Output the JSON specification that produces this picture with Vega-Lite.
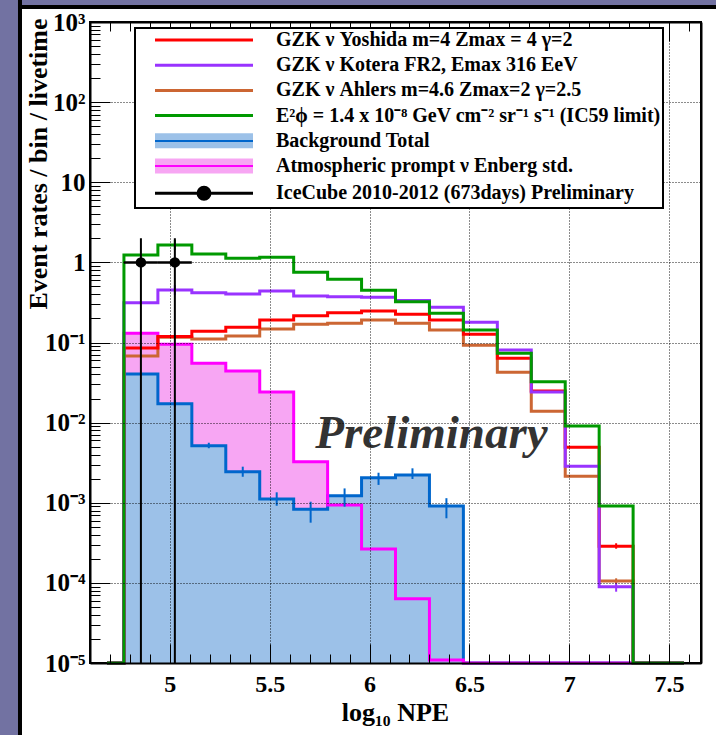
{
  "$schema": "https://vega.github.io/schema/vega-lite/v6.json",
  "width": 611,
  "height": 641,
  "autosize": {"type": "none"},
  "padding": {"left": 90, "top": 22, "right": 15, "bottom": 72},
  "background": "#ffffff",
  "config": {
    "view": {"stroke": "#000000", "strokeWidth": 2, "fill": null},
    "font": "Liberation Serif"
  },
  "datasets": {
    "hist": [
      {"series": "Background Total", "c": 4.685, "v": 0.00001},
      {"series": "Background Total", "c": 4.855, "v": 0.0404},
      {"series": "Background Total", "c": 5.025, "v": 0.0172},
      {"series": "Background Total", "c": 5.195, "v": 0.00515},
      {"series": "Background Total", "c": 5.365, "v": 0.00244},
      {"series": "Background Total", "c": 5.535, "v": 0.001114},
      {"series": "Background Total", "c": 5.705, "v": 0.000828},
      {"series": "Background Total", "c": 5.875, "v": 0.001225},
      {"series": "Background Total", "c": 6.045, "v": 0.002056},
      {"series": "Background Total", "c": 6.215, "v": 0.00222},
      {"series": "Background Total", "c": 6.385, "v": 0.00091},
      {"series": "Background Total", "c": 6.555, "v": 0.00001},
      {"series": "Background Total", "c": 6.725, "v": 0.00001},
      {"series": "Background Total", "c": 6.895, "v": 0.00001},
      {"series": "Background Total", "c": 7.065, "v": 0.00001},
      {"series": "Background Total", "c": 7.235, "v": 0.00001},
      {"series": "Background Total", "c": 7.405, "v": 0.00001},
      {"series": "Background Total", "c": 7.575, "v": 0.00001},
      {"series": "Atmospheric prompt ν Enberg std.", "c": 4.685, "v": 0.00001},
      {"series": "Atmospheric prompt ν Enberg std.", "c": 4.855, "v": 0.130},
      {"series": "Atmospheric prompt ν Enberg std.", "c": 5.025, "v": 0.0950},
      {"series": "Atmospheric prompt ν Enberg std.", "c": 5.195, "v": 0.0550},
      {"series": "Atmospheric prompt ν Enberg std.", "c": 5.365, "v": 0.0441},
      {"series": "Atmospheric prompt ν Enberg std.", "c": 5.535, "v": 0.0241},
      {"series": "Atmospheric prompt ν Enberg std.", "c": 5.705, "v": 0.00325},
      {"series": "Atmospheric prompt ν Enberg std.", "c": 5.875, "v": 0.000938},
      {"series": "Atmospheric prompt ν Enberg std.", "c": 6.045, "v": 0.000265},
      {"series": "Atmospheric prompt ν Enberg std.", "c": 6.215, "v": 0.0000634},
      {"series": "Atmospheric prompt ν Enberg std.", "c": 6.385, "v": 0.0000109},
      {"series": "Atmospheric prompt ν Enberg std.", "c": 6.555, "v": 0.00001},
      {"series": "Atmospheric prompt ν Enberg std.", "c": 6.725, "v": 0.00001},
      {"series": "Atmospheric prompt ν Enberg std.", "c": 6.895, "v": 0.00001},
      {"series": "Atmospheric prompt ν Enberg std.", "c": 7.065, "v": 0.00001},
      {"series": "Atmospheric prompt ν Enberg std.", "c": 7.235, "v": 0.00001},
      {"series": "Atmospheric prompt ν Enberg std.", "c": 7.405, "v": 0.00001},
      {"series": "Atmospheric prompt ν Enberg std.", "c": 7.575, "v": 0.00001},
      {"series": "GZK ν Ahlers m=4.6 Zmax=2 γ=2.5", "c": 4.685, "v": 0.00001},
      {"series": "GZK ν Ahlers m=4.6 Zmax=2 γ=2.5", "c": 4.855, "v": 0.0678},
      {"series": "GZK ν Ahlers m=4.6 Zmax=2 γ=2.5", "c": 5.025, "v": 0.116},
      {"series": "GZK ν Ahlers m=4.6 Zmax=2 γ=2.5", "c": 5.195, "v": 0.1106},
      {"series": "GZK ν Ahlers m=4.6 Zmax=2 γ=2.5", "c": 5.365, "v": 0.1205},
      {"series": "GZK ν Ahlers m=4.6 Zmax=2 γ=2.5", "c": 5.535, "v": 0.147},
      {"series": "GZK ν Ahlers m=4.6 Zmax=2 γ=2.5", "c": 5.705, "v": 0.1687},
      {"series": "GZK ν Ahlers m=4.6 Zmax=2 γ=2.5", "c": 5.875, "v": 0.174},
      {"series": "GZK ν Ahlers m=4.6 Zmax=2 γ=2.5", "c": 6.045, "v": 0.191},
      {"series": "GZK ν Ahlers m=4.6 Zmax=2 γ=2.5", "c": 6.215, "v": 0.174},
      {"series": "GZK ν Ahlers m=4.6 Zmax=2 γ=2.5", "c": 6.385, "v": 0.143},
      {"series": "GZK ν Ahlers m=4.6 Zmax=2 γ=2.5", "c": 6.555, "v": 0.0923},
      {"series": "GZK ν Ahlers m=4.6 Zmax=2 γ=2.5", "c": 6.725, "v": 0.0425},
      {"series": "GZK ν Ahlers m=4.6 Zmax=2 γ=2.5", "c": 6.895, "v": 0.01384},
      {"series": "GZK ν Ahlers m=4.6 Zmax=2 γ=2.5", "c": 7.065, "v": 0.00214},
      {"series": "GZK ν Ahlers m=4.6 Zmax=2 γ=2.5", "c": 7.235, "v": 0.0001055},
      {"series": "GZK ν Ahlers m=4.6 Zmax=2 γ=2.5", "c": 7.405, "v": 0.00001},
      {"series": "GZK ν Ahlers m=4.6 Zmax=2 γ=2.5", "c": 7.575, "v": 0.00001},
      {"series": "GZK ν Yoshida m=4 Zmax = 4 γ=2", "c": 4.685, "v": 0.00001},
      {"series": "GZK ν Yoshida m=4 Zmax = 4 γ=2", "c": 4.855, "v": 0.0853},
      {"series": "GZK ν Yoshida m=4 Zmax = 4 γ=2", "c": 5.025, "v": 0.119},
      {"series": "GZK ν Yoshida m=4 Zmax = 4 γ=2", "c": 5.195, "v": 0.138},
      {"series": "GZK ν Yoshida m=4 Zmax = 4 γ=2", "c": 5.365, "v": 0.155},
      {"series": "GZK ν Yoshida m=4 Zmax = 4 γ=2", "c": 5.535, "v": 0.191},
      {"series": "GZK ν Yoshida m=4 Zmax = 4 γ=2", "c": 5.705, "v": 0.216},
      {"series": "GZK ν Yoshida m=4 Zmax = 4 γ=2", "c": 5.875, "v": 0.235},
      {"series": "GZK ν Yoshida m=4 Zmax = 4 γ=2", "c": 6.045, "v": 0.247},
      {"series": "GZK ν Yoshida m=4 Zmax = 4 γ=2", "c": 6.215, "v": 0.225},
      {"series": "GZK ν Yoshida m=4 Zmax = 4 γ=2", "c": 6.385, "v": 0.191},
      {"series": "GZK ν Yoshida m=4 Zmax = 4 γ=2", "c": 6.555, "v": 0.1265},
      {"series": "GZK ν Yoshida m=4 Zmax = 4 γ=2", "c": 6.725, "v": 0.0635},
      {"series": "GZK ν Yoshida m=4 Zmax = 4 γ=2", "c": 6.895, "v": 0.0248},
      {"series": "GZK ν Yoshida m=4 Zmax = 4 γ=2", "c": 7.065, "v": 0.00492},
      {"series": "GZK ν Yoshida m=4 Zmax = 4 γ=2", "c": 7.235, "v": 0.000286},
      {"series": "GZK ν Yoshida m=4 Zmax = 4 γ=2", "c": 7.405, "v": 0.00001},
      {"series": "GZK ν Yoshida m=4 Zmax = 4 γ=2", "c": 7.575, "v": 0.00001},
      {"series": "GZK ν Kotera FR2, Emax 316 EeV", "c": 4.685, "v": 0.00001},
      {"series": "GZK ν Kotera FR2, Emax 316 EeV", "c": 4.855, "v": 0.314},
      {"series": "GZK ν Kotera FR2, Emax 316 EeV", "c": 5.025, "v": 0.452},
      {"series": "GZK ν Kotera FR2, Emax 316 EeV", "c": 5.195, "v": 0.419},
      {"series": "GZK ν Kotera FR2, Emax 316 EeV", "c": 5.365, "v": 0.403},
      {"series": "GZK ν Kotera FR2, Emax 316 EeV", "c": 5.535, "v": 0.439},
      {"series": "GZK ν Kotera FR2, Emax 316 EeV", "c": 5.705, "v": 0.380},
      {"series": "GZK ν Kotera FR2, Emax 316 EeV", "c": 5.875, "v": 0.373},
      {"series": "GZK ν Kotera FR2, Emax 316 EeV", "c": 6.045, "v": 0.367},
      {"series": "GZK ν Kotera FR2, Emax 316 EeV", "c": 6.215, "v": 0.335},
      {"series": "GZK ν Kotera FR2, Emax 316 EeV", "c": 6.385, "v": 0.275},
      {"series": "GZK ν Kotera FR2, Emax 316 EeV", "c": 6.555, "v": 0.179},
      {"series": "GZK ν Kotera FR2, Emax 316 EeV", "c": 6.725, "v": 0.0806},
      {"series": "GZK ν Kotera FR2, Emax 316 EeV", "c": 6.895, "v": 0.0241},
      {"series": "GZK ν Kotera FR2, Emax 316 EeV", "c": 7.065, "v": 0.00285},
      {"series": "GZK ν Kotera FR2, Emax 316 EeV", "c": 7.235, "v": 0.0000895},
      {"series": "GZK ν Kotera FR2, Emax 316 EeV", "c": 7.405, "v": 0.00001},
      {"series": "GZK ν Kotera FR2, Emax 316 EeV", "c": 7.575, "v": 0.00001},
      {"series": "E²ϕ = 1.4 x 10⁻⁸ GeV cm⁻² sr⁻¹ s⁻¹ (IC59 limit)", "c": 4.685, "v": 0.00001},
      {"series": "E²ϕ = 1.4 x 10⁻⁸ GeV cm⁻² sr⁻¹ s⁻¹ (IC59 limit)", "c": 4.855, "v": 1.236},
      {"series": "E²ϕ = 1.4 x 10⁻⁸ GeV cm⁻² sr⁻¹ s⁻¹ (IC59 limit)", "c": 5.025, "v": 1.648},
      {"series": "E²ϕ = 1.4 x 10⁻⁸ GeV cm⁻² sr⁻¹ s⁻¹ (IC59 limit)", "c": 5.195, "v": 1.272},
      {"series": "E²ϕ = 1.4 x 10⁻⁸ GeV cm⁻² sr⁻¹ s⁻¹ (IC59 limit)", "c": 5.365, "v": 1.124},
      {"series": "E²ϕ = 1.4 x 10⁻⁸ GeV cm⁻² sr⁻¹ s⁻¹ (IC59 limit)", "c": 5.535, "v": 1.156},
      {"series": "E²ϕ = 1.4 x 10⁻⁸ GeV cm⁻² sr⁻¹ s⁻¹ (IC59 limit)", "c": 5.705, "v": 0.752},
      {"series": "E²ϕ = 1.4 x 10⁻⁸ GeV cm⁻² sr⁻¹ s⁻¹ (IC59 limit)", "c": 5.875, "v": 0.615},
      {"series": "E²ϕ = 1.4 x 10⁻⁸ GeV cm⁻² sr⁻¹ s⁻¹ (IC59 limit)", "c": 6.045, "v": 0.448},
      {"series": "E²ϕ = 1.4 x 10⁻⁸ GeV cm⁻² sr⁻¹ s⁻¹ (IC59 limit)", "c": 6.215, "v": 0.323},
      {"series": "E²ϕ = 1.4 x 10⁻⁸ GeV cm⁻² sr⁻¹ s⁻¹ (IC59 limit)", "c": 6.385, "v": 0.231},
      {"series": "E²ϕ = 1.4 x 10⁻⁸ GeV cm⁻² sr⁻¹ s⁻¹ (IC59 limit)", "c": 6.555, "v": 0.143},
      {"series": "E²ϕ = 1.4 x 10⁻⁸ GeV cm⁻² sr⁻¹ s⁻¹ (IC59 limit)", "c": 6.725, "v": 0.0733},
      {"series": "E²ϕ = 1.4 x 10⁻⁸ GeV cm⁻² sr⁻¹ s⁻¹ (IC59 limit)", "c": 6.895, "v": 0.0324},
      {"series": "E²ϕ = 1.4 x 10⁻⁸ GeV cm⁻² sr⁻¹ s⁻¹ (IC59 limit)", "c": 7.065, "v": 0.00908},
      {"series": "E²ϕ = 1.4 x 10⁻⁸ GeV cm⁻² sr⁻¹ s⁻¹ (IC59 limit)", "c": 7.235, "v": 0.00091},
      {"series": "E²ϕ = 1.4 x 10⁻⁸ GeV cm⁻² sr⁻¹ s⁻¹ (IC59 limit)", "c": 7.405, "v": 0.00001},
      {"series": "E²ϕ = 1.4 x 10⁻⁸ GeV cm⁻² sr⁻¹ s⁻¹ (IC59 limit)", "c": 7.575, "v": 0.00001}
    ],
    "err": [
      {"series": "Background Total", "c": 5.025, "lo": 0.0158, "hi": 0.0192},
      {"series": "Background Total", "c": 5.195, "lo": 0.00479, "hi": 0.00561},
      {"series": "Background Total", "c": 5.365, "lo": 0.00211, "hi": 0.00282},
      {"series": "Background Total", "c": 5.535, "lo": 0.000918, "hi": 0.00135},
      {"series": "Background Total", "c": 5.705, "lo": 0.000564, "hi": 0.00103},
      {"series": "Background Total", "c": 5.875, "lo": 0.000893, "hi": 0.00151},
      {"series": "Background Total", "c": 6.045, "lo": 0.00167, "hi": 0.00237},
      {"series": "Background Total", "c": 6.215, "lo": 0.00198, "hi": 0.00269},
      {"series": "Background Total", "c": 6.385, "lo": 0.00064, "hi": 0.00114},
      {"series": "E²ϕ = 1.4 x 10⁻⁸ GeV cm⁻² sr⁻¹ s⁻¹ (IC59 limit)", "c": 5.025, "lo": 1.427, "hi": 1.905},
      {"series": "GZK ν Kotera FR2, Emax 316 EeV", "c": 5.025, "lo": 0.392, "hi": 0.522},
      {"series": "GZK ν Kotera FR2, Emax 316 EeV", "c": 7.235, "lo": 0.0000776, "hi": 0.000103},
      {"series": "GZK ν Yoshida m=4 Zmax = 4 γ=2", "c": 7.235, "lo": 0.000267, "hi": 0.000312},
      {"series": "GZK ν Ahlers m=4.6 Zmax=2 γ=2.5", "c": 7.235, "lo": 0.0000988, "hi": 0.000114}
    ],
    "obs": [
      {"x": 4.855, "xlo": 4.77, "xhi": 4.94, "v": 1.0, "lo": 0.00001, "hi": 2.0},
      {"x": 5.025, "xlo": 4.94, "xhi": 5.11, "v": 1.0, "lo": 0.00001, "hi": 2.0}
    ]
  },
  "resolve": {"axis": {"x": "independent", "y": "independent"}},
  "layer": [
    {
      "data": {"values": [{}]},
      "mark": {"type": "rect", "fill": "#7272a2", "stroke": "black", "strokeWidth": 4},
      "encoding": {
        "x": {"datum": 3.5, "type": "quantitative",
          "scale": {"domain": [4.6, 7.66], "nice": false, "zero": false}, "axis": null},
        "x2": {"datum": 4.2494},
        "y": {"datum": 1000000000, "type": "quantitative",
          "scale": {"type": "log", "domain": [0.00001, 1000], "nice": false}, "axis": null},
        "y2": {"datum": 0.000000001}
      }
    },
    {
      "data": {"values": [{}]},
      "mark": {"type": "rect", "fill": "#7272a2", "stroke": "black", "strokeWidth": 4},
      "encoding": {
        "x": {"datum": 4.2494, "type": "quantitative",
          "scale": {"domain": [4.6, 7.66], "nice": false, "zero": false},
          "axis": {"orient": "top", "title": null, "labels": false, "grid": false, "domain": true, "ticks": true,
            "values": [4.7,4.8,4.9,5,5.1,5.2,5.3,5.4,5.5,5.6,5.7,5.8,5.9,6,6.1,6.2,6.3,6.4,6.5,6.6,6.7,6.8,6.9,7,7.1,7.2,7.3,7.4,7.5,7.6],
            "tickSize": {"condition": {"test": "abs(datum.value*2-round(datum.value*2))<0.001", "value": -19}, "value": -9},
            "tickColor": "#000000", "tickWidth": 1,
            "domainColor": "#000000", "domainWidth": 2, "zindex": 1}},
        "x2": {"datum": 9},
        "y": {"datum": 1000000000, "type": "quantitative",
          "scale": {"type": "log", "domain": [0.00001, 1000], "nice": false},
          "axis": {"orient": "right", "title": null, "labels": false, "ticks": false, "grid": false, "domain": true,
            "domainColor": "#000000", "domainWidth": 2, "zindex": 1}},
        "y2": {"datum": 1539}
      }
    },
    {
      "data": {"name": "hist"},
      "transform": [{"filter": "datum.series === 'Atmospheric prompt ν Enberg std.'"}],
      "mark": {"type": "area", "interpolate": "step", "fill": "#f7a6f3", "opacity": 1},
      "encoding": {
        "x": {"field": "c", "type": "quantitative", "axis": null},
        "y": {"field": "v", "type": "quantitative", "axis": null},
        "y2": {"datum": 0.00001}
      }
    },
    {
      "data": {"name": "hist"},
      "transform": [{"filter": "datum.series === 'Background Total'"}],
      "mark": {"type": "area", "interpolate": "step", "fill": "#9cc1e8", "opacity": 1},
      "encoding": {
        "x": {"field": "c", "type": "quantitative", "axis": null},
        "y": {"field": "v", "type": "quantitative", "axis": null},
        "y2": {"datum": 0.00001}
      }
    },
    {
      "data": {"name": "hist"},
      "mark": {"type": "line", "interpolate": "step", "strokeWidth": 3},
      "encoding": {
        "x": {"field": "c", "type": "quantitative",
          "scale": {"domain": [4.6, 7.66], "nice": false, "zero": false},
          "axis": {"orient": "bottom", "domain": true, "ticks": true,
            "values": [4.7,4.8,4.9,5,5.1,5.2,5.3,5.4,5.5,5.6,5.7,5.8,5.9,6,6.1,6.2,6.3,6.4,6.5,6.6,6.7,6.8,6.9,7,7.1,7.2,7.3,7.4,7.5,7.6],
            "tickSize": {"condition": {"test": "abs(datum.value*2-round(datum.value*2))<0.001", "value": -19}, "value": -9},
            "tickColor": "#000000", "tickWidth": 1,
            "labelExpr": "abs(datum.value*2-round(datum.value*2))<0.001 ? format(datum.value,'.1~f') : ''",
            "labelFont": "Liberation Serif", "labelFontWeight": "bold", "labelFontSize": 24, "labelColor": "black",
            "labelPadding": 28, "labelFlush": false, "labelOverlap": false,
            "grid": true,
            "gridOpacity": {"condition": {"test": "abs(datum.value*2-round(datum.value*2))<0.001", "value": 0.9}, "value": 0},
            "gridColor": "black", "gridDash": [1, 2], "gridWidth": 1,
            "domainColor": "#000000", "domainWidth": 2,
            "title": "log₁₀ NPE", "titleFont": "Liberation Serif", "titleFontWeight": "bold", "titleFontSize": 26, "titleColor": "black",
            "titleX": 305, "titleY": 57, "titleAlign": "center", "titleBaseline": "alphabetic",
            "zindex": 1}},
        "y": {"field": "v", "type": "quantitative",
          "scale": {"type": "log", "domain": [0.00001, 1000], "nice": false},
          "axis": {"orient": "left", "domain": true, "ticks": true,
            "values": [0.00001,0.00002,0.00003,0.00004,0.00005,0.00006,0.00007,0.00008,0.00009,0.0001,0.0002,0.0003,0.0004,0.0005,0.0006,0.0007,0.0008,0.0009,0.001,0.002,0.003,0.004,0.005,0.006,0.007,0.008,0.009,0.01,0.02,0.03,0.04,0.05,0.06,0.07,0.08,0.09,0.1,0.2,0.3,0.4,0.5,0.6,0.7,0.8,0.9,1,2,3,4,5,6,7,8,9,10,20,30,40,50,60,70,80,90,100,200,300,400,500,600,700,800,900,1000],
            "tickSize": {"condition": {"test": "abs(log(datum.value)/LN10-round(log(datum.value)/LN10))<0.001", "value": -20}, "value": -10},
            "tickColor": "#000000", "tickWidth": 1,
            "labelExpr": "abs(log(datum.value)/LN10-round(log(datum.value)/LN10))<0.001 ? ['10⁻⁵','10⁻⁴','10⁻³','10⁻²','10⁻¹','1','10','10²','10³'][round(log(datum.value)/LN10)+5] : ''",
            "labelFont": "Liberation Serif", "labelFontWeight": "bold", "labelFontSize": 25, "labelColor": "black",
            "labelPadding": 25, "labelFlush": false, "labelOverlap": false,
            "grid": true,
            "gridOpacity": {"condition": {"test": "abs(log(datum.value)/LN10-round(log(datum.value)/LN10))<0.001", "value": 0.9}, "value": 0},
            "gridColor": "black", "gridDash": [1, 2], "gridWidth": 1,
            "domainColor": "#000000", "domainWidth": 2,
            "title": "Event rates / bin / livetime", "titleFont": "Liberation Serif", "titleFontWeight": "bold", "titleFontSize": 26, "titleColor": "black",
            "titleAngle": 270, "titleX": -44, "titleY": -4, "titleAlign": "right", "titleBaseline": "alphabetic",
            "zindex": 1}},
        "color": {"field": "series", "type": "nominal",
          "scale": {
            "domain": ["GZK ν Yoshida m=4 Zmax = 4 γ=2", "GZK ν Kotera FR2, Emax 316 EeV", "GZK ν Ahlers m=4.6 Zmax=2 γ=2.5", "E²ϕ = 1.4 x 10⁻⁸ GeV cm⁻² sr⁻¹ s⁻¹ (IC59 limit)", "Background Total", "Atmospheric prompt ν Enberg std.", "IceCube 2010-2012 (673days) Preliminary"],
            "range": ["#ff0000", "#9933ff", "#cc6633", "#009900", "#0066cc", "#ff00ff", "#000000"]
          },
          "legend": {
            "orient": "none", "legendX": 45, "legendY": 6, "title": null,
            "fillColor": "white", "strokeColor": "black",
            "padding": 2, "rowPadding": 5.2,
            "symbolType": "stroke", "symbolSize": 100, "symbolStrokeWidth": 3,
            "symbolOffset": 57, "labelOffset": 62,
            "labelFont": "Liberation Serif", "labelFontWeight": "bold", "labelFontSize": 20, "labelColor": "black", "labelLimit": 1000,
            "labelExpr": "indexof(datum.label,'IceCube')==0 ? datum.label + '   ' : datum.label",
            "zindex": 2,
            "encode": {
              "legend": {"update": {"strokeWidth": {"value": 2}}},
              "symbols": {
                "update": {
                  "shape": {"signal": "(indexof(datum.value,'Background')==0 || indexof(datum.value,'Atmospheric')==0) ? 'M-9.8,-1.5H9.8V1.5H-9.8Z' : indexof(datum.value,'IceCube')==0 ? 'M-9.8,0H9.8M1.2,0A1.2,1.2,0,1,1,-1.2,0A1.2,1.2,0,1,1,1.2,0Z' : 'M-9.8,0H9.8'"},
                  "fill": {"signal": "indexof(datum.value,'Background')==0 ? {gradient:'linear',x1:0,y1:0,x2:0,y2:1,stops:[{offset:0,color:'#9cc1e8'},{offset:0.42,color:'#9cc1e8'},{offset:0.42,color:'#0066cc'},{offset:0.58,color:'#0066cc'},{offset:0.58,color:'#9cc1e8'},{offset:1,color:'#9cc1e8'}]} : indexof(datum.value,'Atmospheric')==0 ? {gradient:'linear',x1:0,y1:0,x2:0,y2:1,stops:[{offset:0,color:'#f7a6f3'},{offset:0.42,color:'#f7a6f3'},{offset:0.42,color:'#ff00ff'},{offset:0.58,color:'#ff00ff'},{offset:0.58,color:'#f7a6f3'},{offset:1,color:'#f7a6f3'}]} : indexof(datum.value,'IceCube')==0 ? '#000000' : 'transparent'"},
                  "strokeOpacity": {"signal": "(indexof(datum.value,'Background')==0 || indexof(datum.value,'Atmospheric')==0) ? 0 : 1"},
                  "opacity": {"value": 1}
                }
              }
            }
          }
        }
      }
    },
    {
      "data": {"name": "err"},
      "mark": {"type": "rule", "strokeWidth": 2},
      "encoding": {
        "x": {"field": "c", "type": "quantitative", "axis": null},
        "y": {"field": "lo", "type": "quantitative", "axis": null},
        "y2": {"field": "hi"},
        "color": {"field": "series", "type": "nominal"}
      }
    },
    {
      "data": {"name": "obs"},
      "mark": {"type": "rule", "strokeWidth": 2, "color": "black"},
      "encoding": {
        "x": {"field": "x", "type": "quantitative", "axis": null},
        "y": {"field": "lo", "type": "quantitative", "axis": null},
        "y2": {"field": "hi"}
      }
    },
    {
      "data": {"name": "obs"},
      "mark": {"type": "rule", "strokeWidth": 2.5, "color": "black"},
      "encoding": {
        "x": {"field": "xlo", "type": "quantitative", "axis": null},
        "x2": {"field": "xhi"},
        "y": {"field": "v", "type": "quantitative", "axis": null}
      }
    },
    {
      "data": {"name": "obs"},
      "mark": {"type": "point", "filled": true, "color": "black", "size": 110, "opacity": 1},
      "encoding": {
        "x": {"field": "x", "type": "quantitative", "axis": null},
        "y": {"field": "v", "type": "quantitative", "axis": null}
      }
    },
    {
      "data": {"values": [{}]},
      "mark": {"type": "text", "text": "Preliminary", "font": "Liberation Serif", "fontStyle": "italic", "fontWeight": "bold", "fontSize": 47, "color": "#333333", "align": "center", "baseline": "alphabetic"},
      "encoding": {
        "x": {"datum": 6.31, "type": "quantitative", "axis": null},
        "y": {"datum": 0.00478, "type": "quantitative", "axis": null}
      }
    }
  ]
}
